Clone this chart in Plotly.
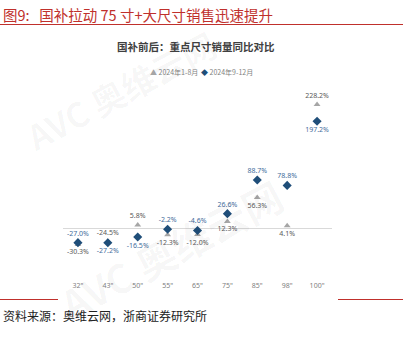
import plotly.graph_objects as go

# Screen sizes (inches) and YoY sales growth (%) before/after the subsidy
sizes = ['32"', '43"', '50"', '55"', '65"', '75"', '85"', '98"', '100"']
jan_aug = [-30.3, -24.5, 5.8, -12.3, -12.0, 12.3, 56.3, 4.1, 228.2]
sep_dec = [-27.0, -27.2, -16.5, -2.2, -4.6, 26.6, 88.7, 78.8, 197.2]

W, H = 408, 340
L, R, T, B = 63, 76, 90, 60
PW, PH = W - L - R, H - T - B


def px(x, y):
    """Pixel position on the page -> paper coordinates."""
    return (x - L) / PW, 1 - (y - T) / PH


GRAY_MARK = "#a6a6a6"
BLUE_MARK = "#1f4e79"
GRAY_TXT = "#595959"
BLUE_TXT = "#3f6d9c"
RED = "#c0302c"

# the higher point of each pair is labelled above, the lower one below
pos_a = ["top center" if a >= b else "bottom center" for a, b in zip(jan_aug, sep_dec)]
pos_b = ["top center" if b > a else "bottom center" for a, b in zip(jan_aug, sep_dec)]

fig = go.Figure()
fig.add_trace(go.Scatter(
    x=list(range(len(sizes))), y=jan_aug, mode="markers+text",
    marker=dict(symbol="triangle-up", size=6, color=GRAY_MARK),
    text=[f"{v:.1f}%" for v in jan_aug], textposition=pos_a,
    textfont=dict(size=7, color=GRAY_TXT, family="Noto Sans"),
    name="2024年1-8月", showlegend=False, cliponaxis=False,
))
fig.add_trace(go.Scatter(
    x=list(range(len(sizes))), y=sep_dec, mode="markers+text",
    marker=dict(symbol="diamond", size=7, color=BLUE_MARK),
    text=[f"{v:.1f}%" for v in sep_dec], textposition=pos_b,
    textfont=dict(size=7, color=BLUE_TXT, family="Noto Sans"),
    name="2024年9-12月", showlegend=False, cliponaxis=False,
))

ann = []
# figure caption
x0, y0 = px(1, 14)
ann.append(dict(x=x0, y=y0, xref="paper", yref="paper", xanchor="left", yanchor="middle",
                text="图9:   国补拉动 75 寸+大尺寸销售迅速提升", showarrow=False,
                font=dict(size=14.5, color=RED, family="Noto Sans CJK SC")))
# chart title
x0, y0 = px(196, 47)
ann.append(dict(x=x0, y=y0, xref="paper", yref="paper", xanchor="center", yanchor="middle",
                text="<b>国补前后：重点尺寸销量同比对比</b>", showarrow=False,
                font=dict(size=10.5, color="#404040", family="Noto Sans CJK SC")))
# legend
x0, y0 = px(148, 72)
ann.append(dict(x=x0, y=y0, xref="paper", yref="paper", xanchor="left", yanchor="middle",
                text=f"<span style='color:{GRAY_MARK}'>▲</span> 2024年1-8月", showarrow=False,
                font=dict(size=7, color="#7f7f7f", family="Noto Sans CJK SC")))
x0, y0 = px(199, 72)
ann.append(dict(x=x0, y=y0, xref="paper", yref="paper", xanchor="left", yanchor="middle",
                text=f"<span style='color:{BLUE_MARK}'>◆</span> 2024年9-12月", showarrow=False,
                font=dict(size=7, color="#7f7f7f", family="Noto Sans CJK SC")))
# source note
x0, y0 = px(1, 315)
ann.append(dict(x=x0, y=y0, xref="paper", yref="paper", xanchor="left", yanchor="middle",
                text="资料来源：奥维云网，浙商证券研究所", showarrow=False,
                font=dict(size=12, color="#222222", family="Noto Sans CJK SC")))
# faint watermark
for wx, wy, sz in [(120, 90, 34), (170, 250, 40)]:
    x0, y0 = px(wx, wy)
    ann.append(dict(x=x0, y=y0, xref="paper", yref="paper", xanchor="center", yanchor="middle",
                    text="<b>AVC 奥维云网</b>", showarrow=False, textangle=-28,
                    font=dict(size=sz, color="rgba(0,0,0,0.035)", family="Noto Sans CJK SC")))

shapes = []
for (xa, xb, y) in [(0, 403, 24.5), (0, 58, 299.5), (338, 403, 299.5)]:
    a, yy = px(xa, y)
    b, _ = px(xb, y)
    shapes.append(dict(type="line", xref="paper", yref="paper", x0=a, x1=b, y0=yy, y1=yy,
                       line=dict(color=RED, width=1.2)))

fig.update_layout(
    width=W, height=H, margin=dict(l=L, r=R, t=T, b=B),
    paper_bgcolor="white", plot_bgcolor="white",
    annotations=ann, shapes=shapes,
    xaxis=dict(range=[-0.5, 8.5], tickmode="array", tickvals=list(range(len(sizes))),
               ticktext=sizes, showgrid=False, zeroline=False, showline=False,
               ticks="", tickfont=dict(size=7, color="#7f7f7f", family="Noto Sans")),
    yaxis=dict(range=[-96, 255], showgrid=False, showticklabels=False, zeroline=True,
               zerolinecolor="#d9d9d9", zerolinewidth=1, showline=False, ticks=""),
)

fig.write_html("out.html")
